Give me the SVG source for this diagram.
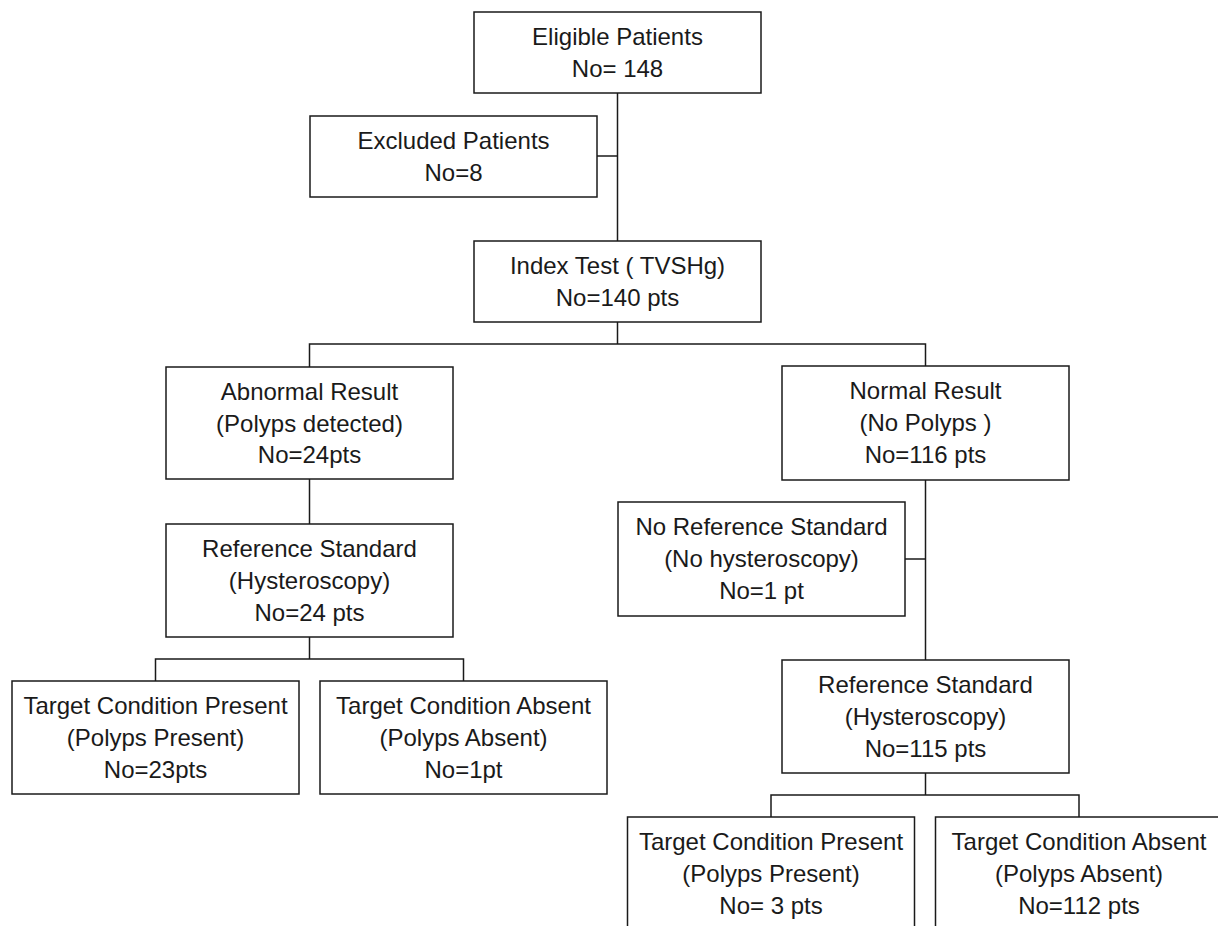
<svg xmlns="http://www.w3.org/2000/svg" width="1218" height="926" viewBox="0 0 1218 926">
<style>
.box{fill:#fff;stroke:#1a1a1a;stroke-width:1.5}
.ln{fill:none;stroke:#1a1a1a;stroke-width:1.5}
text{font-family:"Liberation Sans",Arial,Helvetica,sans-serif;font-size:24px;fill:#1a1a1a;text-anchor:middle}
</style>
<rect width="1218" height="926" fill="#fff"/>
<g id="connectors">
<path class="ln" d="M617.5,93 V241"/>
<path class="ln" d="M597,156 H617.5"/>
<path class="ln" d="M617.5,322 V344"/>
<path class="ln" d="M309.5,367 V344 H925.5 V366"/>
<path class="ln" d="M309.5,479 V524"/>
<path class="ln" d="M309.5,637 V659"/>
<path class="ln" d="M155.5,681 V659 H463.5 V681"/>
<path class="ln" d="M925.5,480 V660"/>
<path class="ln" d="M905,559 H925.5"/>
<path class="ln" d="M925.5,773 V795"/>
<path class="ln" d="M771,817 V795 H1079 V817"/>
</g>
<g id="eligible">
<rect class="box" x="474" y="12" width="287" height="81"/>
<text x="617.5" y="45">Eligible Patients</text>
<text x="617.5" y="77">No= 148</text>
</g>
<g id="excluded">
<rect class="box" x="310" y="116" width="287" height="81"/>
<text x="453.5" y="148.5">Excluded Patients</text>
<text x="453.5" y="181">No=8</text>
</g>
<g id="index">
<rect class="box" x="474" y="241" width="287" height="81"/>
<text x="617.5" y="274">Index Test ( TVSHg)</text>
<text x="617.5" y="306">No=140 pts</text>
</g>
<g id="abnormal">
<rect class="box" x="166" y="367" width="287" height="112"/>
<text x="309.5" y="399.5">Abnormal Result</text>
<text x="309.5" y="431.5">(Polyps detected)</text>
<text x="309.5" y="463">No=24pts</text>
</g>
<g id="normal">
<rect class="box" x="782" y="366" width="287" height="114"/>
<text x="925.5" y="399">Normal Result</text>
<text x="925.5" y="431">(No Polyps )</text>
<text x="925.5" y="463">No=116 pts</text>
</g>
<g id="refstd-left">
<rect class="box" x="166" y="524" width="287" height="113"/>
<text x="309.5" y="557">Reference Standard</text>
<text x="309.5" y="589">(Hysteroscopy)</text>
<text x="309.5" y="621">No=24 pts</text>
</g>
<g id="noref">
<rect class="box" x="618" y="502" width="287" height="114"/>
<text x="761.5" y="535">No Reference Standard</text>
<text x="761.5" y="567">(No hysteroscopy)</text>
<text x="761.5" y="599">No=1 pt</text>
</g>
<g id="target-present-left">
<rect class="box" x="12" y="681" width="287" height="113"/>
<text x="155.5" y="714">Target Condition Present</text>
<text x="155.5" y="746">(Polyps Present)</text>
<text x="155.5" y="778">No=23pts</text>
</g>
<g id="target-absent-left">
<rect class="box" x="320" y="681" width="287" height="113"/>
<text x="463.5" y="714">Target Condition Absent</text>
<text x="463.5" y="746">(Polyps Absent)</text>
<text x="463.5" y="778">No=1pt</text>
</g>
<g id="refstd-right">
<rect class="box" x="782" y="660" width="287" height="113"/>
<text x="925.5" y="693">Reference Standard</text>
<text x="925.5" y="725">(Hysteroscopy)</text>
<text x="925.5" y="757">No=115 pts</text>
</g>
<g id="target-present-right">
<path class="ln" d="M627.5,930 V817 H914.5 V930"/>
<text x="771" y="850">Target Condition Present</text>
<text x="771" y="882">(Polyps Present)</text>
<text x="771" y="914">No= 3 pts</text>
</g>
<g id="target-absent-right">
<path class="ln" d="M935.5,930 V817 H1222.5"/>
<text x="1079" y="850">Target Condition Absent</text>
<text x="1079" y="882">(Polyps Absent)</text>
<text x="1079" y="914">No=112 pts</text>
</g>
</svg>
